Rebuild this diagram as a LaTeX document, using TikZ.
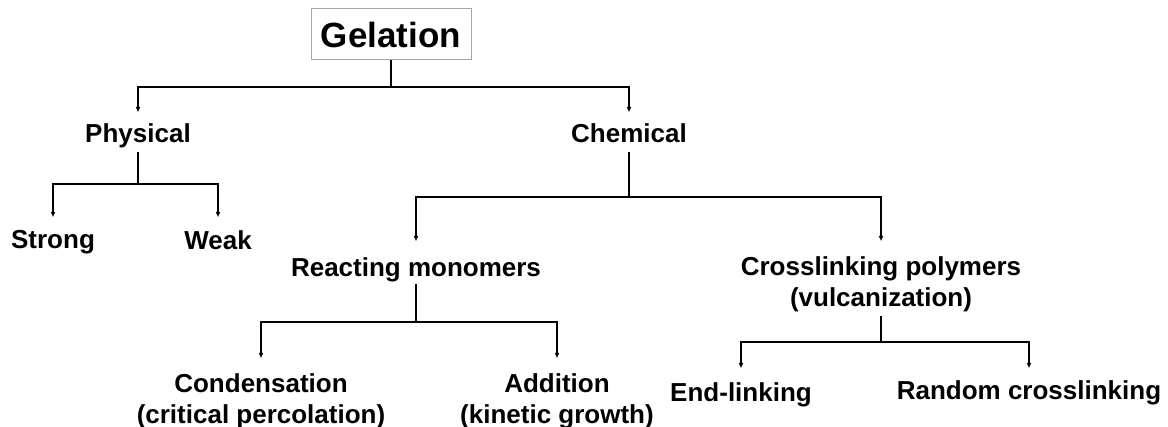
\documentclass[tikz,border=0pt]{standalone}
\usepackage{fontspec}
\setmainfont{Liberation Sans}
\usetikzlibrary{arrows.meta}
\tikzset{
  rotulo/.style={font=\bfseries\fontsize{26}{31}\selectfont, align=center, inner sep=0pt, anchor=north},
  raiz/.style={draw=gray!70, line width=1pt, minimum width=160pt, minimum height=51pt, inner sep=0pt, font=\bfseries\fontsize{35}{40}\selectfont},
  rama/.style={line width=1.5pt},
  flecha/.style={rama, -{Triangle[length=5pt,width=4pt]}, shorten >=#1},
  flecha/.default=12pt,
}
\begin{document}
\begin{tikzpicture}[x=1pt,y=-1pt] %Clasificacion de la gelacion
    \useasboundingbox (0,0) rectangle (1168,427);

    \node[raiz] (gel) at (391,34.5) {Gelation};

    \node[rotulo] (fis) at (138,123) {Physical};
    \node[rotulo] (qui) at (629,123) {Chemical};

    \node[rotulo] (fuerte) at (53,230) {Strong};
    \node[rotulo] (debil) at (218,230) {Weak};

    \node[rotulo] (mon) at (416,257) {Reacting monomers};
    \node[rotulo] (pol) at (881,256) {Crosslinking polymers\\(vulcanization)};

    \node[rotulo] (cond) at (261,373) {Condensation\\(critical percolation)};
    \node[rotulo] (adic) at (557,373) {Addition\\(kinetic growth)};
    \node[rotulo] (ext) at (741,382) {End-linking};
    \node[rotulo] (azar) at (1029,380) {Random crosslinking};

    \coordinate (b0) at (391,87);
    \coordinate (b1) at (138,184);
    \coordinate (b2) at (629,197);
    \coordinate (b3) at (416,322);
    \coordinate (b4) at (881,342);

    \draw[rama] (gel.south) -- (b0);
    \draw[rama, shorten <=4.5pt] (fis.south) -- (b1);
    \draw[rama, shorten <=10pt] (qui.south) -- (b2);
    \draw[rama, shorten <=2pt] (mon.south) -- (b3);
    \draw[rama, shorten <=4.5pt] (pol.south) -- (b4);

    \draw[flecha=11pt] (b0) -| (fis.north);
    \draw[flecha=11pt] (b0) -| (qui.north);

    \draw[flecha=13pt] (b1) -| (fuerte.north);
    \draw[flecha=13pt] (b1) -| (debil.north);

    \draw[flecha=16pt] (b2) -| (mon.north);
    \draw[flecha=15pt] (b2) -| (pol.north);

    \draw[flecha=15pt] (b3) -| (cond.north);
    \draw[flecha=15pt] (b3) -| (adic.north);

    \draw[flecha=14pt] (b4) -| (ext.north);
    \draw[flecha=12pt] (b4) -| (azar.north);
\end{tikzpicture}
\end{document}
